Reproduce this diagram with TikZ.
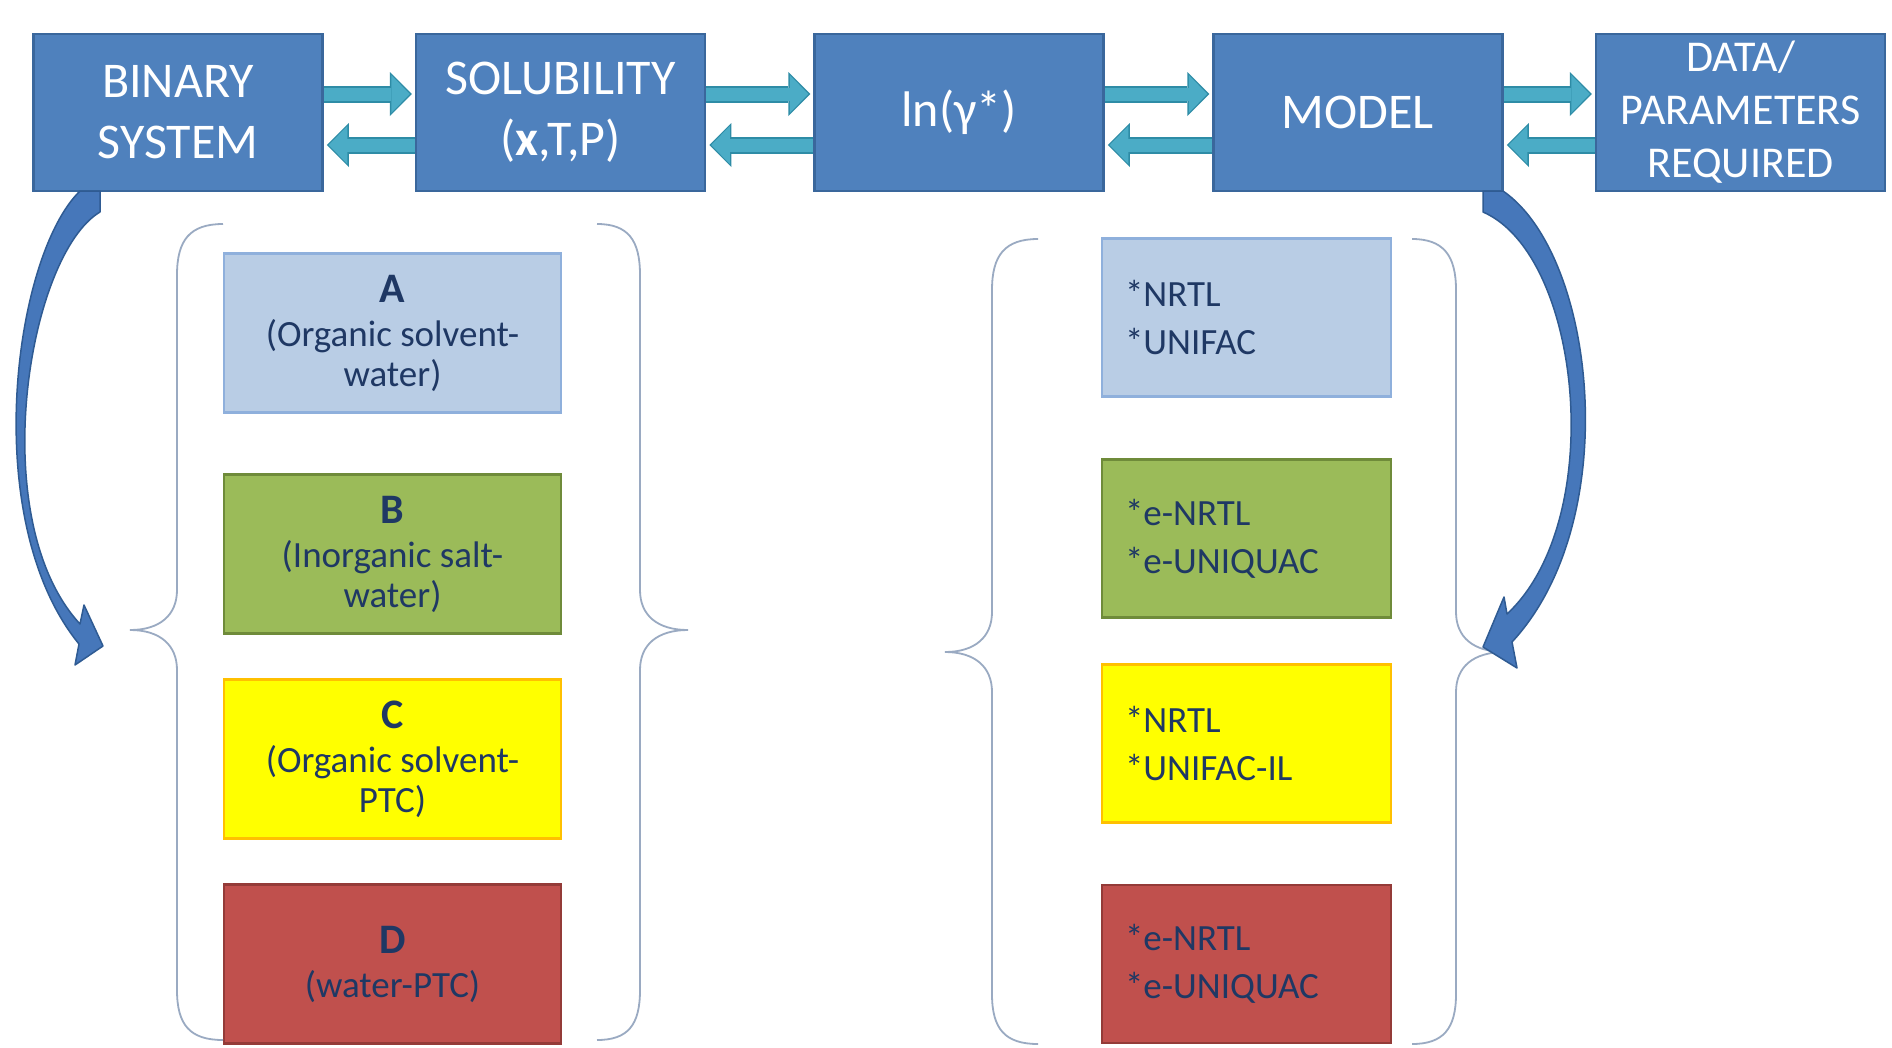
\documentclass[tikz,border=0pt]{standalone}
\usepackage{fontspec}
\setmainfont{Carlito}
\usetikzlibrary{arrows.meta,calc}
\definecolor{topfill}{HTML}{4F81BD}
\definecolor{topdraw}{HTML}{3A679C}
\definecolor{tealfill}{HTML}{4BACC6}
\definecolor{tealdraw}{HTML}{2E8CA6}
\definecolor{afill}{HTML}{B9CDE5}
\definecolor{adraw}{HTML}{8FB0DC}
\definecolor{bfill}{HTML}{9BBB59}
\definecolor{bdraw}{HTML}{6F8B3A}
\definecolor{cfill}{HTML}{FFFF00}
\definecolor{cdraw}{HTML}{FFC000}
\definecolor{dfill}{HTML}{C0504D}
\definecolor{ddraw}{HTML}{943B38}
\definecolor{navy}{HTML}{1F3864}
\definecolor{bracecol}{HTML}{9AAAC2}
\definecolor{cafill}{HTML}{4677BA}
\definecolor{cadraw}{HTML}{2F5B93}
\tikzset{
  topbox/.style={draw=topdraw, fill=topfill, line width=2.5pt, minimum width=289pt,
    minimum height=157pt, text=white, align=center, inner sep=0pt,
    font=\fontsize{50}{61}\selectfont},
  leftbox/.style={line width=2.5pt, minimum width=337pt, minimum height=159pt,
    text=navy, align=center, inner sep=0pt, font=\fontsize{37}{40}\selectfont},
  rightbox/.style={line width=2.5pt, minimum width=289pt, minimum height=158pt,
    text=navy, align=left, text width=243pt, inner xsep=23pt, inner ysep=0pt,
    font=\fontsize{37}{48}\selectfont},
  tealout/.style={line width=17pt, draw=tealdraw,
    -{Triangle[width=44pt,length=22pt,line width=0pt]}},
  tealin/.style={line width=13pt, draw=tealfill, shorten >=2pt,
    -{Triangle[width=38pt,length=18.5pt,line width=0pt]}},
  curvarrow/.style={fill=cafill, draw=cadraw, line width=1.5pt, line join=round},
  bracestyle/.style={draw=bracecol, line width=1.8pt}
}
\begin{document}
\begin{tikzpicture}[x=1pt,y=-1pt]
\path[use as bounding box, fill=white] (0,0) rectangle (1892,1047);

% top row
\node[topbox] (bin) at (178,112.5) {BINARY\\SYSTEM};
\node[topbox] (sol) at (560.5,112.5) {SOLUBILITY\\(\textbf{x},T,P)};
\node[topbox] (lng) at (959,112.5) {ln(γ*)};
\node[topbox] (mod) at (1358,112.5) {MODEL};
\node[topbox, font=\fontsize{44}{53}\selectfont] (dat) at (1740.5,112.5) {DATA/\\PARAMETERS\\REQUIRED};

% double arrows
\foreach \a/\b in {bin/sol, sol/lng, lng/mod, mod/dat} {
  \draw[tealout] ($(\a.east)+(0,-18.5)$) -- ($(\b.west)+(-3,-18.5)$);
  \draw[tealin]  ($(\a.east)+(0,-18.5)$) -- ($(\b.west)+(-3,-18.5)$);
  \draw[tealout] ($(\b.west)+(0,32.5)$) -- ($(\a.east)+(3,32.5)$);
  \draw[tealin]  ($(\b.west)+(0,32.5)$) -- ($(\a.east)+(3,32.5)$);
}

% left group boxes
\node[leftbox, fill=afill, draw=adraw] (A) at (392.5,333)
  {{\fontsize{42}{46}\selectfont\bfseries A}\\[4pt](Organic solvent-\\water)};
\node[leftbox, fill=bfill, draw=bdraw] (B) at (392.5,554)
  {{\fontsize{42}{46}\selectfont\bfseries B}\\[4pt](Inorganic salt-\\water)};
\node[leftbox, fill=cfill, draw=cdraw] (C) at (392.5,759)
  {{\fontsize{42}{46}\selectfont\bfseries C}\\[4pt](Organic solvent-\\PTC)};
\node[leftbox, fill=dfill, draw=ddraw] (D) at (392.5,964)
  {{\fontsize{42}{46}\selectfont\bfseries D}\\[4pt](water-PTC)};

% right group boxes
\node[rightbox, fill=afill, draw=adraw] (m1) at (1246.5,317.5) {*NRTL\\{}*UNIFAC};
\node[rightbox, fill=bfill, draw=bdraw] (m2) at (1246.5,538.5) {*e-NRTL\\{}*e-UNIQUAC};
\node[rightbox, fill=cfill, draw=cdraw] (m3) at (1246.5,743.5) {*NRTL\\{}*UNIFAC-IL};
\node[rightbox, fill=dfill, draw=ddraw] (m4) at (1246.5,964) {*e-NRTL\\{}*e-UNIQUAC};

% braces, left group
\draw[bracestyle] (223,224) .. controls (190,224) and (177,240) .. (177,275)
  -- (177,590) .. controls (177,615) and (160,630) .. (130,630)
  .. controls (160,630) and (177,645) .. (177,670)
  -- (177,990) .. controls (177,1025) and (190,1040) .. (223,1040);
\draw[bracestyle] (597,224) .. controls (628,224) and (640,240) .. (640,275)
  -- (640,590) .. controls (640,615) and (657,630) .. (688,630)
  .. controls (657,630) and (640,645) .. (640,670)
  -- (640,990) .. controls (640,1025) and (628,1040) .. (597,1040);
% braces, right group
\draw[bracestyle] (1038,239) .. controls (1005,239) and (992,255) .. (992,290)
  -- (992,612) .. controls (992,637) and (975,652) .. (945,652)
  .. controls (975,652) and (992,667) .. (992,692)
  -- (992,994) .. controls (992,1029) and (1005,1044) .. (1038,1044);
\draw[bracestyle] (1412,239) .. controls (1443,239) and (1456,255) .. (1456,290)
  -- (1456,612) .. controls (1456,637) and (1473,652) .. (1505,652)
  .. controls (1473,652) and (1456,667) .. (1456,692)
  -- (1456,994) .. controls (1456,1029) and (1443,1044) .. (1412,1044);

% curved arrows
\filldraw[curvarrow] (80,191) -- (100,191) -- (100,212)
  .. controls (28,255) and (-16,520) .. (80,624) -- (84,605) -- (103,646)
  -- (75,665) -- (79,644) .. controls (-22,520) and (14,255) .. (80,191) -- cycle;
\filldraw[curvarrow] (1503,191) -- (1483,191) -- (1483,212)
  .. controls (1582,255) and (1608,520) .. (1507,614) -- (1504,597) -- (1483,647)
  -- (1517,668) -- (1512,642) .. controls (1625,520) and (1596,255) .. (1503,191) -- cycle;
\end{tikzpicture}
\end{document}
